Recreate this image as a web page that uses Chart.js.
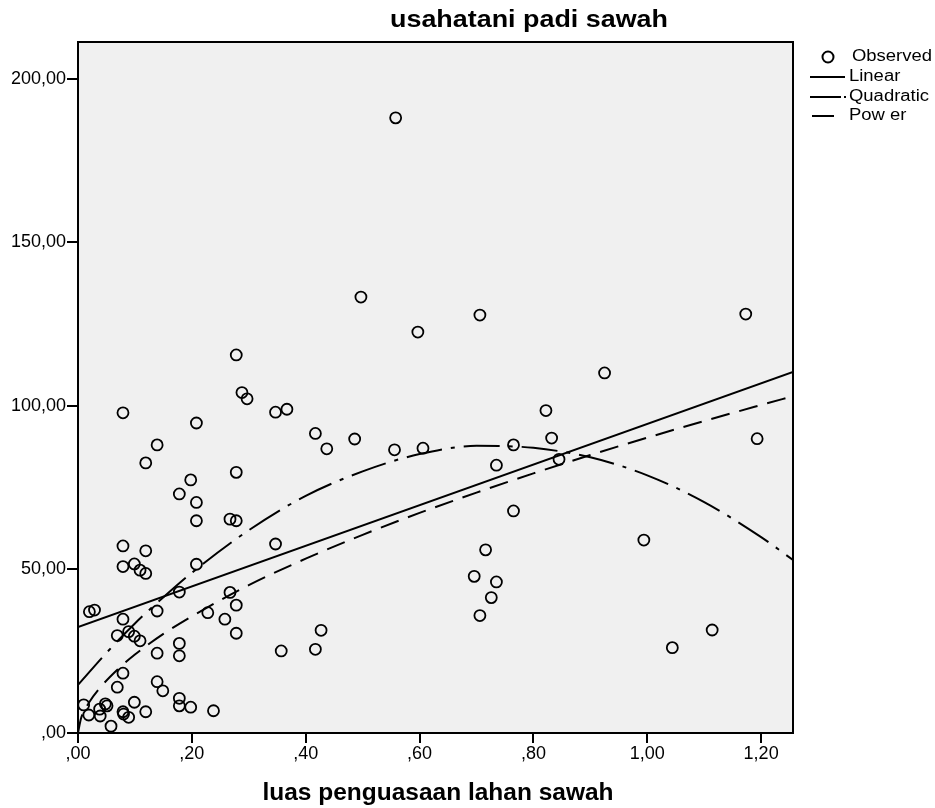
<!doctype html>
<html lang="en">
<head>
<meta charset="utf-8" />
<title>usahatani padi sawah</title>
<script src="https://cdn.jsdelivr.net/npm/chart.js@4.4.1/dist/chart.umd.min.js"></script>
<style>
  html,
  body {
    margin: 0;
    padding: 0;
    background: #fff;
  }
  #wrap {
    position: relative;
    width: 935px;
    height: 808px;
  }
</style>
</head>
<body>
<div id="wrap"><canvas id="chart"></canvas></div>
<script>
  // observed values (luas lahan, hasil usahatani)
  const obsX = [0.558, 0.497, 0.597, 0.706, 1.173, 0.925, 0.278, 0.288, 0.297, 0.347,
    0.367, 0.079, 0.208, 0.139, 0.119, 0.198, 0.178, 0.208, 0.278, 0.267,
    0.278, 0.208, 0.417, 0.437, 0.486, 0.556, 0.606, 0.765, 0.735, 0.765,
    0.822, 0.832, 0.845, 1.193, 0.994, 0.347, 0.716, 0.696, 0.735, 0.726,
    0.706, 0.357, 0.417, 0.427, 1.044, 1.114, 0.079, 0.119, 0.079, 0.099,
    0.109, 0.119, 0.208, 0.178, 0.267, 0.278, 0.258, 0.278, 0.228, 0.020,
    0.029, 0.079, 0.139, 0.069, 0.089, 0.099, 0.109, 0.139, 0.178, 0.178,
    0.079, 0.069, 0.139, 0.149, 0.099, 0.119, 0.178, 0.178, 0.198, 0.238,
    0.010, 0.019, 0.038, 0.039, 0.048, 0.051, 0.079, 0.080, 0.089, 0.058];
  const obsY = [188.1, 133.3, 122.6, 127.8, 128.1, 110.1, 115.6, 104.1, 102.2, 98.1,
    99.0, 97.9, 94.8, 88.1, 82.6, 77.4, 73.1, 70.5, 79.7, 65.4,
    64.9, 64.9, 91.6, 86.9, 89.9, 86.6, 87.1, 88.1, 81.9, 67.9,
    98.6, 90.2, 83.7, 90.0, 59.0, 57.8, 56.0, 47.9, 46.2, 41.4,
    35.9, 25.1, 25.6, 31.4, 26.1, 31.5, 57.2, 55.7, 50.9, 51.7,
    49.8, 48.8, 51.6, 43.1, 43.0, 39.1, 34.8, 30.5, 36.8, 37.1,
    37.6, 34.8, 37.3, 29.8, 31.0, 29.6, 28.2, 24.4, 27.4, 23.6,
    18.3, 14.0, 15.7, 12.9, 9.4, 6.5, 10.6, 8.3, 7.9, 6.8,
    8.6, 5.5, 7.3, 5.2, 8.9, 8.3, 6.5, 5.8, 4.8, 2.1];

  // fitted curves
  const linX = [0, 1.256];
  const linY = [32.4, 110.4];
  const quadX = [0, 0.05, 0.1, 0.15, 0.2, 0.3, 0.4, 0.5, 0.6, 0.7, 0.8, 0.9, 1.0, 1.1, 1.2, 1.256];
  const quadY = [14.7, 24.5, 33.5, 41.5, 49.0, 62.0, 72.5, 80.0, 85.3, 87.8, 87.2, 84.3, 78.8, 70.6, 59.9, 52.9];
  const powX = [0, 0.005, 0.01, 0.02, 0.04, 0.07, 0.1, 0.15, 0.2, 0.3, 0.4, 0.5, 0.6, 0.7, 0.8, 0.9, 1.0, 1.1, 1.2, 1.256];
  const powY = [0, 4.3, 6.4, 9.5, 14.1, 19.5, 24.0, 30.3, 35.7, 45.2, 53.3, 60.6, 67.3, 73.5, 79.4, 85.0, 90.3, 95.4, 100.3, 103.0];

  const xTicks = [0, 0.2, 0.4, 0.6, 0.8, 1.0, 1.2];
  const xTickLabels = [",00", ",20", ",40", ",60", ",80", "1,00", "1,20"];
  const yTicks = [0, 50, 100, 150, 200];
  const yTickLabels = [",00", "50,00", "100,00", "150,00", "200,00"];

  const legendLabels = ["Observed", "Linear", "Quadratic", "Pow er"];
  const chartTitle = "usahatani padi sawah";
  const xTitle = "luas penguasaan lahan sawah";

  const FONT = "'Liberation Sans', Arial, sans-serif";
  const QUAD_DASH = [36, 9, 4, 9];
  const POW_DASH = [19, 10];

  const pts = (xs, ys) => xs.map((x, i) => ({ x, y: ys[i] }));

  // text stretched horizontally by k, like the SPSS output
  function drawText(ctx, text, x, y, font, k, align) {
    ctx.save();
    ctx.font = font;
    ctx.textBaseline = "middle";
    ctx.textAlign = "left";
    const w = ctx.measureText(text).width;
    const left = align === "center" ? x - (w * k) / 2 : x;
    ctx.translate(left, y);
    ctx.scale(k, 1);
    ctx.fillText(text, 0, 0);
    ctx.restore();
  }

  function fitScale(ctx, text, font, width) {
    ctx.save();
    ctx.font = font;
    const w = ctx.measureText(text).width;
    ctx.restore();
    return width / w;
  }

  const spssFrame = {
    id: "spssFrame",
    beforeDraw(chart) {
      const { ctx, chartArea: a } = chart;
      ctx.save();
      ctx.fillStyle = "#f0f0f0";
      ctx.fillRect(a.left, a.top, a.right - a.left, a.bottom - a.top);
      ctx.restore();
    },
    afterDraw(chart) {
      const { ctx, chartArea: a } = chart;
      ctx.save();
      ctx.strokeStyle = "#000";
      ctx.lineWidth = 2;
      ctx.strokeRect(a.left, a.top, a.right - a.left, a.bottom - a.top);
      ctx.fillStyle = "#000";

      const tf = "bold 23px " + FONT;
      drawText(ctx, chartTitle, 529, 21, tf, fitScale(ctx, chartTitle, tf, 278), "center");
      drawText(ctx, xTitle, 438, 794, tf, fitScale(ctx, xTitle, tf, 351), "center");

      // legend
      const lf = "16px " + FONT;
      const k = fitScale(ctx, legendLabels[0], lf, 80);
      ctx.lineWidth = 2;
      ctx.beginPath();
      ctx.arc(828, 57, 5.5, 0, Math.PI * 2);
      ctx.stroke();
      drawText(ctx, legendLabels[0], 852, 57, lf, k);

      const rows = [
        [77, 810, 845, []],
        [97, 810, 846, [31, 3, 2, 20]],
        [116, 812, 834, []]
      ];
      rows.forEach(([y, x0, x1, dash], i) => {
        ctx.setLineDash(dash);
        ctx.beginPath();
        ctx.moveTo(x0, y);
        ctx.lineTo(x1, y);
        ctx.stroke();
        ctx.setLineDash([]);
        drawText(ctx, legendLabels[i + 1], 849, y, lf, k);
      });
      ctx.restore();
    }
  };

  const lineDs = (data, dash) => ({
    data,
    showLine: true,
    borderColor: "#000",
    borderWidth: 2,
    borderDash: dash,
    pointRadius: 0,
    pointHoverRadius: 0,
    fill: false,
    tension: 0.4,
    cubicInterpolationMode: "monotone"
  });

  new Chart(document.getElementById("chart"), {
    type: "scatter",
    data: {
      datasets: [
        {
          data: pts(obsX, obsY),
          pointStyle: "circle",
          pointRadius: 5.5,
          pointBorderWidth: 1.8,
          pointBorderColor: "#000",
          pointBackgroundColor: "rgba(0,0,0,0)"
        },
        lineDs(pts(linX, linY), []),
        lineDs(pts(quadX, quadY), QUAD_DASH),
        lineDs(pts(powX, powY), POW_DASH)
      ]
    },
    options: {
      responsive: true,
      maintainAspectRatio: false,
      animation: false,
      layout: { padding: { top: 42, right: 142, left: 0, bottom: 0 } },
      plugins: {
        legend: { display: false },
        tooltip: { enabled: false },
        title: { display: false }
      },
      scales: {
        x: {
          type: "linear",
          min: 0,
          max: 1.256,
          afterFit: (s) => { s.height = 75; },
          afterBuildTicks: (s) => { s.ticks = xTicks.map((v) => ({ value: v })); },
          grid: { display: true, drawOnChartArea: false, drawTicks: true, tickLength: 10, color: "#000", lineWidth: 2 },
          border: { display: false },
          ticks: {
            color: "#000",
            font: { family: FONT, size: 18 },
            padding: 0,
            maxRotation: 0,
            callback: (v, i) => xTickLabels[i]
          }
        },
        y: {
          type: "linear",
          min: 0,
          max: 211.3,
          afterFit: (s) => { s.width = 78; },
          afterBuildTicks: (s) => { s.ticks = yTicks.map((v) => ({ value: v })); },
          grid: { display: true, drawOnChartArea: false, drawTicks: true, tickLength: 11, color: "#000", lineWidth: 2 },
          border: { display: false },
          ticks: {
            color: "#000",
            font: { family: FONT, size: 18 },
            padding: 1,
            callback: (v, i) => yTickLabels[i]
          }
        }
      }
    },
    plugins: [spssFrame]
  });
</script>
</body>
</html>
